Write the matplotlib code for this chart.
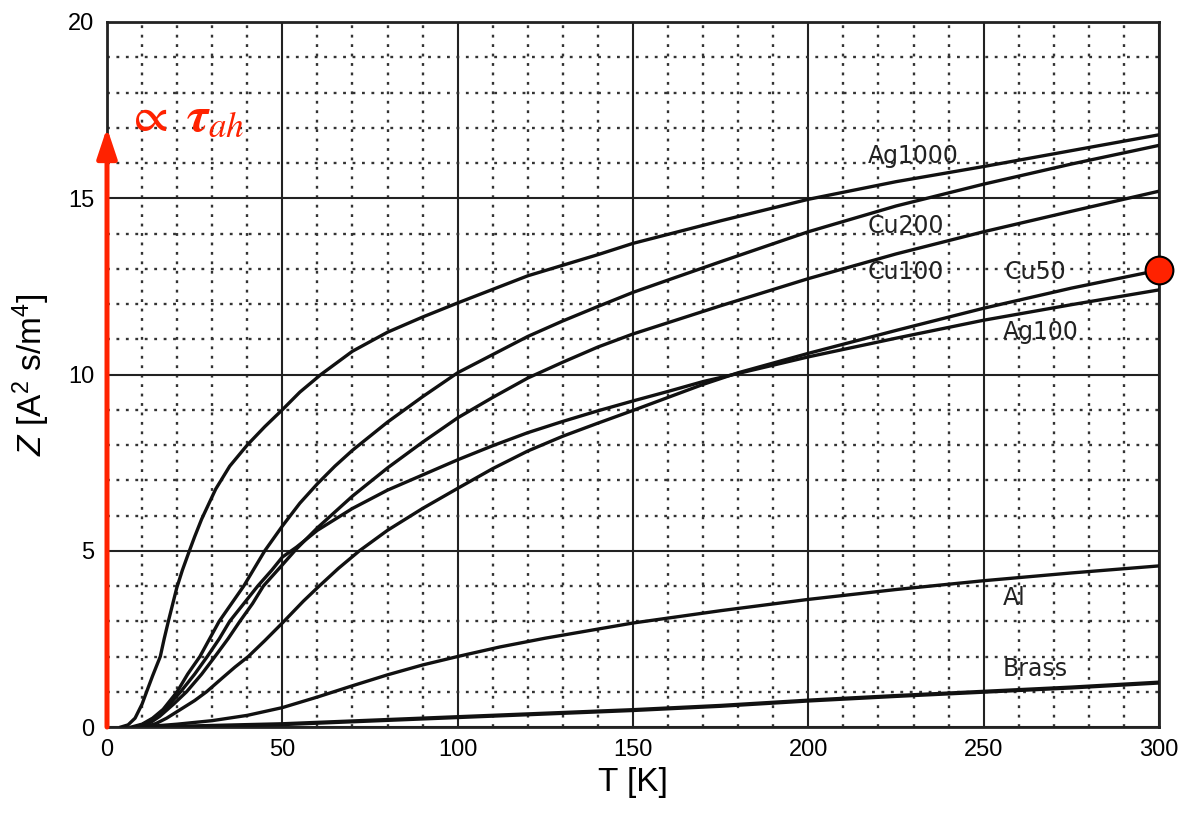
import numpy as np
import matplotlib
matplotlib.use("Agg")
import matplotlib.pyplot as plt
from matplotlib.patches import FancyArrowPatch

plt.rcParams['font.family'] = ['Liberation Sans', 'DejaVu Sans']
plt.rcParams['mathtext.fontset'] = 'custom'
plt.rcParams['mathtext.rm'] = 'Liberation Sans'
plt.rcParams['mathtext.it'] = 'Liberation Sans:italic'

RED = '#ff2200'

# curves (T in K, Z in A^2 s/m^4)
ag1000_T = [4, 6, 8, 10, 11.3, 13, 15.2, 16.3, 17.5, 19.9, 21.5, 23.5, 25, 27, 31, 35, 40, 45,
            50, 55, 61, 70, 80, 90, 100, 120, 140, 150, 175, 200, 225, 250, 275, 300]
ag1000_Z = [0, 0.06, 0.25, 0.65, 1.0, 1.45, 2.0, 2.5, 3.0, 3.95, 4.45, 5.0, 5.4, 5.9, 6.75,
            7.4, 8.0, 8.52, 9.0, 9.5, 10.0, 10.66, 11.2, 11.63, 12.03, 12.8, 13.4, 13.72,
            14.36, 14.97, 15.47, 15.9, 16.35, 16.8]

cu200_T = [7, 10, 13, 16, 20, 23, 26.5, 32, 39, 45, 50, 55, 60, 65, 70, 80, 90, 100, 120,
           130, 140, 150, 160, 175, 200, 225, 250, 275, 300]
cu200_Z = [0, 0.08, 0.25, 0.5, 1.0, 1.5, 2.0, 3.0, 4.0, 5.0, 5.7, 6.35, 6.9, 7.4, 7.85, 8.65,
           9.37, 10.05, 11.08, 11.52, 11.93, 12.33, 12.68, 13.2, 14.05, 14.78, 15.4, 15.97,
           16.5]

cu100_T = [9, 12, 15, 19, 22.7, 27, 30.8, 34.5, 37.9, 41.5, 44.6, 50, 54, 60, 70, 80, 90, 100,
           110, 120, 130, 140, 150, 160, 175, 200, 225, 250, 275, 300]
cu100_Z = [0, 0.1, 0.3, 0.65, 1.0, 1.5, 2.0, 2.5, 3.0, 3.5, 4.0, 4.6, 5.05, 5.65, 6.55, 7.35,
           8.08, 8.77, 9.35, 9.9, 10.35, 10.78, 11.15, 11.47, 11.95, 12.72, 13.42, 14.05,
           14.63, 15.2]

cu50_T = [11, 14, 17, 21, 25, 28.4, 33, 36.5, 40.3, 45, 50, 56, 60, 66, 72, 80, 90, 100, 110,
          120, 130, 140, 150, 160, 170, 180, 200, 225, 250, 275, 300]
cu50_Z = [0, 0.1, 0.25, 0.5, 0.75, 1.0, 1.4, 1.7, 2.0, 2.45, 2.95, 3.57, 3.95, 4.5, 5.0, 5.58,
          6.2, 6.77, 7.33, 7.83, 8.25, 8.62, 8.98, 9.35, 9.72, 10.05, 10.6, 11.25, 11.88,
          12.45, 12.96]

ag100_T = [8, 11, 14, 17, 21, 25, 28.6, 32, 35, 39, 43, 47, 50, 54, 60, 70, 80, 90, 100, 110,
           120, 130, 140, 150, 160, 170, 180, 200, 225, 250, 275, 300]
ag100_Z = [0, 0.1, 0.3, 0.55, 1.0, 1.5, 2.0, 2.5, 3.0, 3.5, 4.0, 4.45, 4.82, 5.1, 5.58, 6.2,
           6.72, 7.15, 7.58, 7.98, 8.35, 8.67, 8.97, 9.25, 9.52, 9.8, 10.03, 10.5, 11.03,
           11.54, 11.98, 12.4]

al_T = [10, 15, 20, 30, 40, 50, 60, 70, 80, 90, 100, 112, 125, 150, 175, 200, 225, 250, 275,
        300]
al_Z = [0, 0.04, 0.08, 0.18, 0.33, 0.55, 0.85, 1.17, 1.48, 1.76, 2.0, 2.27, 2.52, 2.95, 3.3,
        3.62, 3.9, 4.15, 4.37, 4.57]

brass_T = [15, 25, 50, 75, 100, 125, 150, 175, 200, 225, 250, 275, 300]
brass_Z = [0, 0.02, 0.08, 0.18, 0.28, 0.38, 0.48, 0.6, 0.75, 0.88, 1.0, 1.12, 1.26]

# curve labels: (text, T, Z)
labels = [("Ag1000", 217, 16.2), ("Cu200", 217, 14.2), ("Cu100", 217, 12.9),
          ("Cu50", 256, 12.9), ("Ag100", 255.5, 11.2), ("Al", 255.5, 3.65),
          ("Brass", 255.5, 1.65)]

x_ticks = [0, 50, 100, 150, 200, 250, 300]
y_ticks = [0, 5, 10, 15, 20]

fig = plt.figure(figsize=(11.95, 8.14), dpi=100)
ax = fig.add_axes([107 / 1195, 87 / 814, 1052 / 1195, 705 / 814])

ax.set_xlim(0, 300)
ax.set_ylim(0, 20)
ax.set_xticks(x_ticks)
ax.set_yticks(y_ticks)
ax.set_xticks(np.arange(0, 301, 10), minor=True)
ax.set_yticks(np.arange(0, 21, 1), minor=True)
ax.tick_params(which='both', length=0)
ax.tick_params(axis='x', labelsize=17, pad=9)
ax.tick_params(axis='y', labelsize=17, pad=9)

ax.grid(which='major', color='#222222', lw=1.5, ls='-', zorder=1)
ax.grid(which='minor', color='#333333', lw=1.7, ls=(0, (1.2, 2.8)), zorder=1)
for sp in ax.spines.values():
    sp.set_linewidth(2)
    sp.set_color('#222222')

curves = [(ag1000_T, ag1000_Z), (cu200_T, cu200_Z), (cu100_T, cu100_Z),
          (cu50_T, cu50_Z), (ag100_T, ag100_Z), (al_T, al_Z)]
for t, z in curves:
    ax.plot(t, z, color='#111111', lw=2.4, solid_joinstyle='round', zorder=3)
ax.plot(brass_T, brass_Z, color='#111111', lw=3.0, solid_joinstyle='round', zorder=3)

for txt, t, z in labels:
    ax.text(t, z, txt, fontsize=17, family='DejaVu Sans', color='#222222',
            ha='left', va='center', zorder=4)

ax.set_xlabel("T [K]", fontsize=24, labelpad=4)
ax.set_ylabel(r"$Z$ [A$^2$ s/m$^4$]", fontsize=24, labelpad=12)

# red arrow along the Z axis and marked point
arrow = FancyArrowPatch((0, 0), (0, 17.0), arrowstyle='-|>,head_length=0.9,head_width=0.3',
                        mutation_scale=20, color=RED, lw=3.6, clip_on=False, zorder=5,
                        shrinkA=0, shrinkB=0)
ax.add_patch(arrow)
ax.text(5.3, 17.3, r'$\propto\ \boldsymbol{\tau}_{ah}$', color=RED, fontsize=36,
        math_fontfamily='stix', ha='left', va='center', zorder=5)
ax.plot([300], [12.96], 'o', ms=20, mfc=RED, mec='black', mew=1.5, clip_on=False, zorder=6)

fig.savefig("out.png", dpi=100)
